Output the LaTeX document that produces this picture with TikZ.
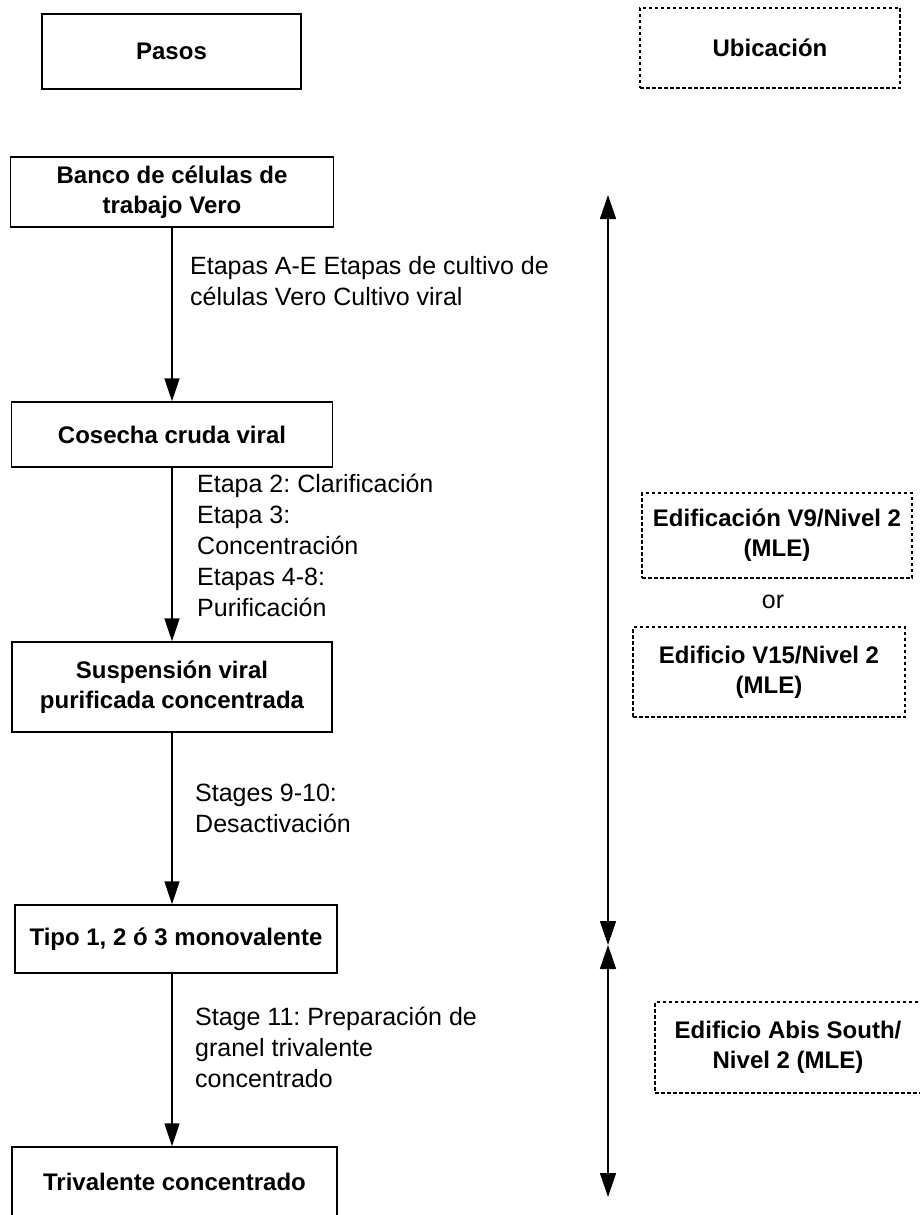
\documentclass[tikz,border=0pt]{standalone}
\usepackage{fontspec}
\setmainfont{Liberation Sans}
\usetikzlibrary{arrows.meta}
\frenchspacing
\begin{document}
\begin{tikzpicture}[x=1pt,y=-1pt,
  stepbox/.style={draw, line width=1.5pt, rectangle, inner sep=0pt, align=center,
    font=\bfseries\fontsize{24}{30}\selectfont},
  placebox/.style={stepbox, line width=1.1pt, dash pattern=on 3.5pt off 2.5pt},
  note/.style={inner sep=0pt, align=left, anchor=west, font=\fontsize{25}{31}\selectfont},
  flow/.style={line width=1.6pt, -{Triangle[length=23pt,width=15pt]}},
  span/.style={line width=1.6pt, {Triangle[length=24pt,width=16pt]}-{Triangle[length=24pt,width=16pt]}}
]
\clip (0,0) rectangle (920,1215);
\fill[white] (0,0) rectangle (920,1215);

% column headers
\node[stepbox, minimum width=259pt, minimum height=75pt] (pasos) at (171.5,51.5) {Pasos};
\node[placebox, minimum width=260pt, minimum height=80pt] (ubic) at (770,48) {Ubicación};

% process steps
\node[stepbox, minimum width=323pt, minimum height=70pt] (banco) at (172,192) {Banco de células de\\trabajo Vero};
\node[stepbox, minimum width=321pt, minimum height=65pt] (cosecha) at (172,434.5) {Cosecha cruda viral};
\node[stepbox, minimum width=320pt, minimum height=90pt] (susp) at (172,687) {Suspensión viral\\purificada concentrada};
\node[stepbox, minimum width=322pt, minimum height=68pt] (tipo) at (176,939) {Tipo 1, 2 ó 3 monovalente};
\node[stepbox, minimum width=325pt, minimum height=70pt] (triv) at (174.5,1182) {Trivalente concentrado};

% flow arrows
\draw[flow] (banco.south) -- (banco.south |- cosecha.north);
\draw[flow] (cosecha.south) -- (cosecha.south |- susp.north);
\draw[flow] (susp.south) -- (susp.south |- tipo.north);
\draw[flow] (tipo.south -| susp.south) -- (susp.south |- triv.north);

% stage descriptions
\node[note] (l1) at (190,281) {Etapas A-E Etapas de cultivo de\\células Vero Cultivo viral};
\node[note] (l2) at (197,545.5) {Etapa 2: Clarificación\\Etapa 3:\\Concentración\\Etapas 4-8:\\Purificación};
\node[note] (l3) at (195,808) {Stages 9-10:\\Desactivación};
\node[note] (l4) at (195,1047.5) {Stage 11: Preparación de\\granel trivalente\\concentrado};

% locations
\node[placebox, minimum width=270pt, minimum height=85pt] (edif) at (777,535.5) {Edificación V9/Nivel 2\\(MLE)};
\node[font=\fontsize{25}{30}\selectfont, inner sep=0pt] (or) at (773,602) {or};
\node[placebox, minimum width=272pt, minimum height=90pt] (v15) at (769,672) {Edificio V15/Nivel 2\\(MLE)};
\node[placebox, minimum width=266pt, minimum height=91pt] (abis) at (788,1047.5) {Edificio Abis South/\\Nivel 2 (MLE)};

% extent markers
\coordinate (spantop) at (608,195);
\coordinate (spanmid) at (608,945);
\coordinate (spanend) at (608,1197);
\draw[span] (spantop) -- (spanmid);
\draw[span] (spanmid) -- (spanend);
\end{tikzpicture}
\end{document}
